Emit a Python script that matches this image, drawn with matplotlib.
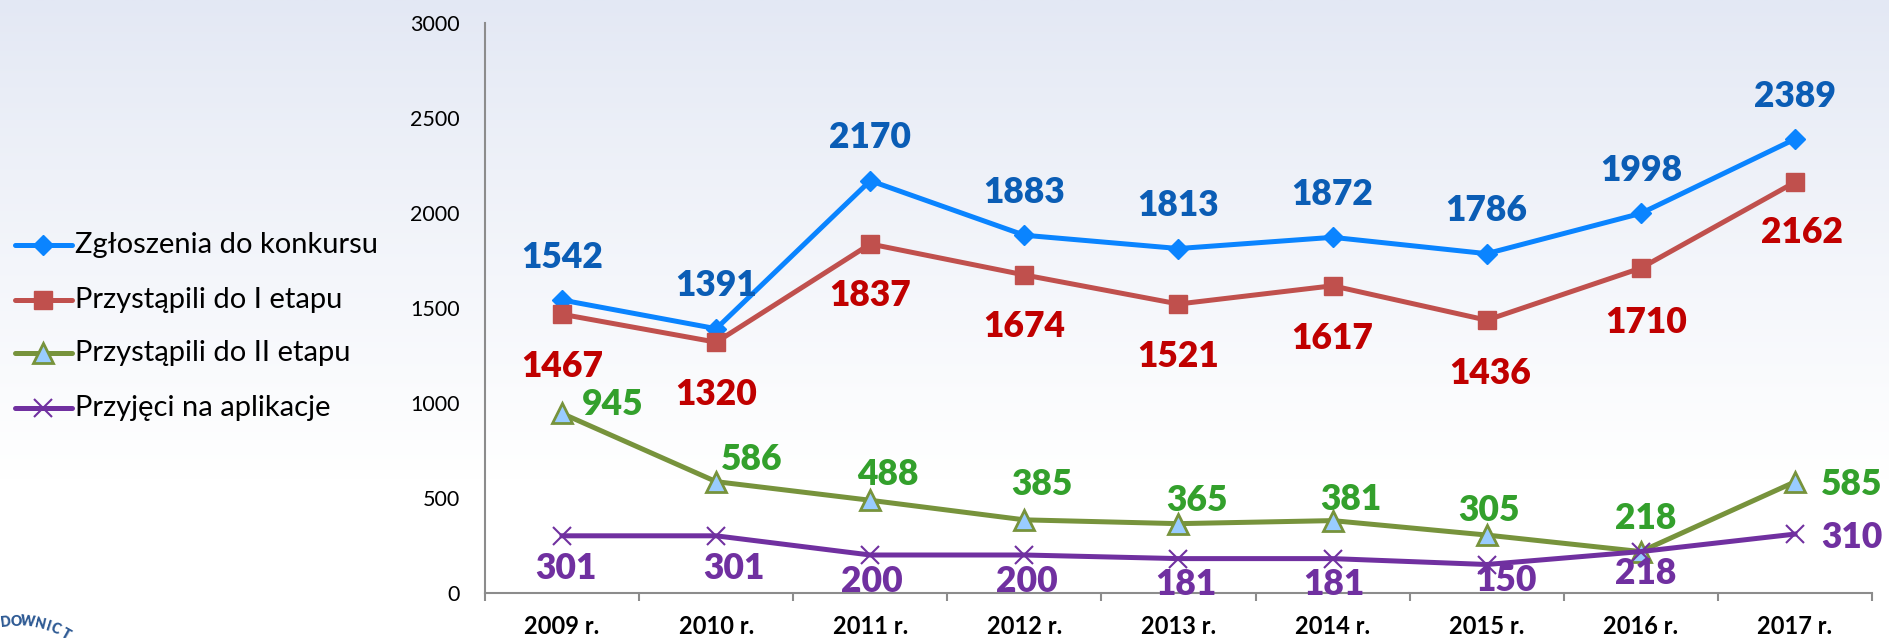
import matplotlib
matplotlib.use('Agg')
import matplotlib.pyplot as plt
import numpy as np
from matplotlib.lines import Line2D

# ---------------- data ----------------
years = ['2009 r.', '2010 r.', '2011 r.', '2012 r.', '2013 r.',
         '2014 r.', '2015 r.', '2016 r.', '2017 r.']
zgloszenia = [1542, 1391, 2170, 1883, 1813, 1872, 1786, 1998, 2389]
etap1 = [1467, 1320, 1837, 1674, 1521, 1617, 1436, 1710, 2162]
etap2 = [945, 586, 488, 385, 365, 381, 305, 218, 585]
przyjeci = [301, 301, 200, 200, 181, 181, 150, 218, 310]
series_names = ['Zgłoszenia do konkursu', 'Przystąpili do I etapu',
                'Przystąpili do II etapu', 'Przyjęci na aplikacje']

# ---------------- layout / style ----------------
W, H = 1890, 638
FONT = 'Lato'
plt.rcParams['font.family'] = [FONT, 'DejaVu Sans']

line_styles = [
    dict(color='#0A84FF', marker='D', ms=10, mfc='#0A84FF', mec='#0A84FF', mew=1),
    dict(color='#C0504D', marker='s', ms=13, mfc='#C0504D', mec='#C0504D', mew=1),
    dict(color='#77933C', marker='^', ms=14, mfc='#99CCFF', mec='#77933C', mew=2),
    dict(color='#7030A0', marker='x', ms=13, mfc='#7030A0', mec='#7030A0', mew=1.5),
]
text_colors = ['#0B5DB5', '#C00000', '#33A02C', '#7030A0']

# label offsets in pixels (dx, dy up)
off_blue = [(0, 46)] * 9
off_red = [(0, -49), (0, -49), (0, -49), (0, -49), (0, -49), (0, -50), (3, -50), (5, -51), (7, -47)]
off_green = [(51, 12), (36, 25), (18, 29), (18, 38), (18, 26), (18, 24), (2, 28), (5, 36), (57, 0)]
off_purple = [(4, -30), (18, -30), (2, -24), (2, -24), (7, -23), (1, -23), (19, -13), (5, -19), (57, 0)]
offsets = [off_blue, off_red, off_green, off_purple]

fig = plt.figure(figsize=(W / 100, H / 100), dpi=100)

# background gradient
bg = fig.add_axes([0, 0, 1, 1], zorder=-10)
t = np.linspace(0, 1, 400)[:, None]  # 0 top, 1 bottom
top = np.array([227, 232, 244]) / 255.0
bot = np.array([255, 255, 255]) / 255.0
f = np.clip(t / 0.75, 0, 1) ** 0.9
img = top[None, None, :] * (1 - f[..., None]) + bot[None, None, :] * f[..., None]
img = np.repeat(img, 2, axis=1)
bg.imshow(img, aspect='auto', extent=[0, 1, 0, 1])
bg.set_axis_off()

# main axes
x0, x1, ytop, ybot = 485, 1872, 23, 593
ax = fig.add_axes([x0 / W, 1 - ybot / H, (x1 - x0) / W, (ybot - ytop) / H])
ax.set_facecolor('none')
ax.set_xlim(-0.5, 8.5)
ax.set_ylim(0, 3000)

xs = np.arange(len(years))
all_series = [zgloszenia, etap1, etap2, przyjeci]
for vals, st, tc, offs in zip(all_series, line_styles, text_colors, offsets):
    ax.plot(xs, vals, lw=3.6, solid_joinstyle='round', clip_on=False, zorder=3, **st)
    for xi, v, (dx, dy) in zip(xs, vals, offs):
        ax.annotate(str(v), (xi, v), xytext=(dx, dy - 3), textcoords='offset pixels',
                    ha='center', va='center', fontsize=25.5, fontweight='heavy',
                    color=tc, zorder=5)

for s in ['top', 'right']:
    ax.spines[s].set_visible(False)
for s in ['left', 'bottom']:
    ax.spines[s].set_color('#8C8C8C')
    ax.spines[s].set_linewidth(1.5)

ax.set_yticks(np.arange(0, 3001, 500))
ax.tick_params(axis='y', length=0, pad=18, labelsize=15.5, labelcolor='#000000')

ax.set_xticks(np.arange(-0.5, 9, 1))
ax.set_xticklabels([])
ax.tick_params(axis='x', which='major', length=6, width=1.5, color='#8C8C8C', direction='out')
ax.set_xticks(xs, minor=True)
ax.set_xticklabels(years, minor=True, fontsize=17, fontweight='bold')
ax.tick_params(axis='x', which='minor', length=0, pad=16)

# legend (manual)
leg_y = [245, 300, 353, 408]
for name, st, yy in zip(series_names, line_styles, leg_y):
    fy = 1 - yy / H
    fig.add_artist(Line2D([15 / W, 72 / W], [fy, fy], transform=fig.transFigure,
                          color=st['color'], lw=3.6, solid_capstyle='round'))
    mk = dict(st)
    mk.pop('color')
    fig.add_artist(Line2D([43 / W], [fy], transform=fig.transFigure, ls='none',
                          color=st['color'], **mk))
    fig.text(75 / W, fy, name, ha='left', va='center', fontsize=21, color='#000000')

# partial seal text at bottom-left (visible part only)
seal = 'DOWNICT'
seal_x = [6, 16, 28, 40, 48, 56, 66]
cx, cy, R = 17, 721, 100
for ch, sx in zip(seal, seal_x):
    th = np.arcsin((sx - cx) / R)
    py = cy - R * np.cos(th)
    fig.text(sx / W, 1 - py / H, ch, rotation=-np.rad2deg(th), ha='center', va='center',
             fontsize=10, fontweight='heavy', color='#2E5A94', rotation_mode='anchor')

fig.savefig('out.png', dpi=100)
